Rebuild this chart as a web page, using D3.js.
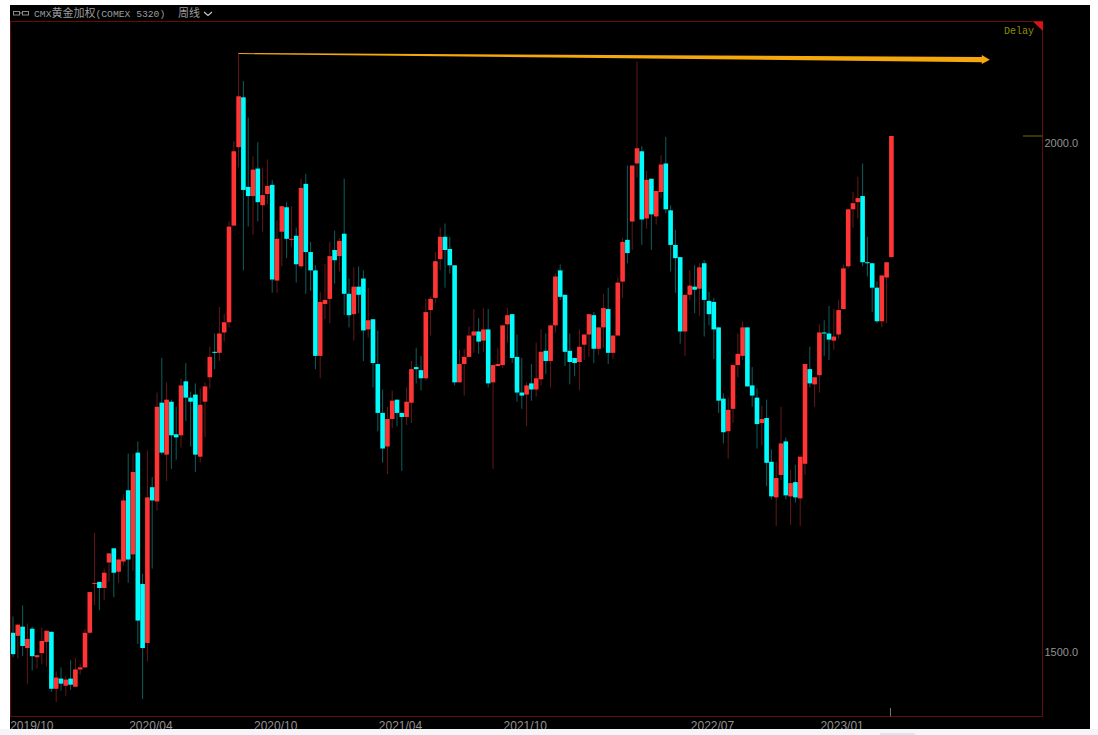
<!DOCTYPE html>
<html>
<head>
<meta charset="utf-8">
<title>CMX黄金加权 周线</title>
<script src="https://cdn.jsdelivr.net/npm/d3@7"></script>
<style>
    html, body { margin: 0; padding: 0; background: #fff; overflow: hidden; }
</style>
</head>
<body>
<div class="content"></div>
<script>
// weekly candles, oldest first
var opens = [1512,1509,1518,1497,1516,1488,1492,1503,1513,1457,1467,1460,1467,1459,1476,1478,1512,1560,1562,1556,
    1581,1595,1572,1582,1652,1589,1689,1560,1502,1655,1641,1738,1687,1739,1707,1706,1759,1743,1746,1685,
    1739,1763,1788,1787,1807,1817,1912,1989,2038,1950,1941,1968,1932,1943,1952,1858,1906,1930,1898,1902,
    1872,1953,1886,1868,1784,1835,1840,1888,1882,1904,1845,1825,1852,1860,1810,1820,1776,1728,1695,1722,
    1741,1728,1724,1738,1773,1770,1762,1829,1841,1879,1901,1889,1873,1758,1776,1783,1804,1808,1799,1810,
    1758,1774,1775,1815,1825,1783,1748,1746,1757,1751,1761,1789,1779,1814,1868,1844,1789,1782,1778,1795,
    1805,1824,1791,1812,1830,1787,1804,1857,1898,1916,1973,1985,1919,1958,1921,1945,1973,1927,1893,1881,
    1808,1844,1852,1850,1875,1838,1837,1812,1742,1710,1732,1775,1784,1812,1755,1743,1718,1723,1680,1645,
    1667,1700,1646,1660,1644,1678,1771,1756,1765,1807,1806,1799,1805,1830,1872,1928,1935,1941,1876,1875,
    1851,1818,1861,1881];
var highs = [1528,1520,1539,1521,1518,1490,1517,1514,1513,1474,1478,1469,1485,1487,1482,1516,1552,1610,1562,1575,
    1590,1595,1584,1648,1688,1688,1700,1570,1691,1665,1748,1782,1758,1741,1734,1762,1777,1749,1757,1752,
    1758,1793,1806,1832,1825,1916,1995,2082,2054,2018,1980,1994,1969,1977,1957,1917,1931,1935,1931,1910,
    1958,1963,1896,1873,1847,1874,1896,1907,1900,1958,1860,1871,1872,1868,1851,1820,1809,1751,1734,1750,
    1741,1728,1753,1779,1792,1784,1840,1842,1886,1910,1914,1901,1873,1790,1791,1813,1830,1821,1831,1830,
    1775,1792,1814,1831,1825,1805,1782,1758,1776,1797,1810,1806,1814,1865,1874,1844,1806,1782,1810,1805,
    1825,1827,1812,1845,1851,1804,1861,1900,1971,1971,2073,1990,1966,1958,1946,1981,1999,1932,1908,1881,
    1844,1868,1873,1875,1878,1847,1841,1812,1747,1743,1775,1806,1818,1812,1773,1752,1735,1741,1692,1680,
    1734,1704,1672,1677,1685,1776,1793,1763,1815,1819,1833,1830,1839,1874,1928,1945,1960,1973,1901,1875,
    1857,1863,1876,2000];
var lows = [1488,1487,1489,1462,1475,1477,1481,1479,1454,1444,1455,1450,1456,1459,1471,1478,1512,1539,1534,1544,
    1562,1547,1561,1578,1561,1573,1501,1447,1484,1575,1632,1687,1661,1673,1682,1694,1720,1695,1670,1679,
    1704,1752,1771,1779,1798,1812,1912,1969,1868,1911,1903,1916,1906,1933,1846,1846,1872,1880,1891,1856,
    1870,1845,1848,1771,1762,1820,1816,1855,1867,1824,1812,1799,1826,1779,1802,1753,1710,1679,1668,1713,
    1715,1671,1716,1718,1757,1750,1760,1804,1836,1868,1851,1865,1755,1758,1745,1783,1787,1786,1788,1753,
    1673,1774,1772,1797,1777,1739,1732,1715,1740,1744,1755,1766,1753,1807,1839,1774,1756,1764,1750,1780,
    1783,1777,1785,1792,1776,1781,1804,1841,1875,1888,1959,1893,1909,1888,1913,1939,1924,1867,1846,1796,
    1784,1839,1826,1823,1803,1814,1781,1728,1698,1683,1718,1763,1780,1754,1734,1693,1696,1656,1643,1617,
    1662,1643,1618,1640,1617,1667,1753,1734,1748,1784,1780,1790,1801,1830,1870,1910,1919,1872,1862,1827,
    1816,1812,1816,1881];
var closes = [1491,1520,1499,1506,1489,1490,1504,1514,1457,1468,1462,1466,1461,1476,1478,1512,1552,1561,1556,1571,
    1590,1571,1584,1642,1584,1670,1524,1497,1645,1642,1734,1689,1741,1706,1704,1755,1743,1739,1687,1736,
    1754,1783,1787,1806,1817,1911,1985,2039,1947,1941,1967,1935,1942,1951,1859,1899,1931,1899,1899,1874,
    1949,1886,1868,1784,1837,1839,1882,1878,1897,1845,1824,1852,1844,1809,1819,1777,1728,1693,1722,1740,
    1728,1724,1739,1771,1771,1762,1827,1840,1877,1901,1888,1873,1758,1776,1783,1804,1808,1798,1810,1757,
    1775,1776,1814,1824,1782,1748,1745,1755,1751,1762,1788,1779,1814,1862,1842,1788,1778,1777,1793,1805,
    1825,1791,1812,1831,1787,1804,1856,1896,1885,1971,1988,1918,1957,1923,1946,1972,1928,1893,1880,1808,
    1844,1853,1849,1871,1839,1825,1810,1740,1709,1731,1775,1786,1812,1754,1745,1717,1722,1679,1646,1664,
    1698,1647,1659,1645,1685,1776,1757,1763,1807,1806,1800,1803,1829,1870,1928,1934,1939,1876,1875,1851,
    1818,1863,1876,2000];

var priceTicks = [1500, 2000];
var dateTickIndex = [-0.8, 24, 50, 76, 102, 141, 168];
var dateTickLabels = ['2019/10', '2020/04', '2020/10', '2021/04', '2021/10', '2022/07', '2023/01'];

// the hand drawn line from the 2020 high
var arrowIndex = [47, 203.5];
var arrowPrice = [2081, 2075];
var lastPrice = 2000;

window.onload = function() {
    var width = 1098, height = 735;
    var red = '#ff3535', cyan = '#00fdfd';
    var redWick = '#641818', cyanWick = '#0b5f5f';
    var frameColor = '#640d0d';
    var left = 10.5, right = 1042.5, top = 21.5, bottom = 716.5;
    var labelColor = '#929292';

    var svg = d3.select('.content').append('svg')
        .attr('width', width)
        .attr('height', height)
        .style('display', 'block');

    // terminal window on a white page
    svg.append('rect').attr('x', 10).attr('y', 5).attr('width', 1080).attr('height', 725).attr('fill', '#000');

    var xScale = d3.scaleLinear().domain([0, 183]).range([13, 891.4]);
    var yScale = d3.scaleLinear().domain([1500, 2000]).range([645, 136]);

    var candles = d3.range(closes.length).map(function(i) {
        return { i: i, open: opens[i], high: highs[i], low: lows[i], close: closes[i] };
    });

    var g = svg.append('g');
    g.selectAll('line.wick').data(candles).enter().append('line')
        .attr('class', 'wick')
        .attr('x1', function(d) { return xScale(d.i); })
        .attr('x2', function(d) { return xScale(d.i); })
        .attr('y1', function(d) { return yScale(d.high); })
        .attr('y2', function(d) { return yScale(d.low); })
        .attr('stroke', function(d) { return d.close >= d.open ? redWick : cyanWick; })
        .attr('stroke-width', 1);
    g.selectAll('rect.body').data(candles).enter().append('rect')
        .attr('class', 'body')
        .attr('x', function(d) { return xScale(d.i) - 2.3; })
        .attr('width', 4.6)
        .attr('y', function(d) { return yScale(Math.max(d.open, d.close)); })
        .attr('height', function(d) { return Math.max(1, Math.abs(yScale(d.open) - yScale(d.close))); })
        .attr('fill', function(d) { return d.close >= d.open ? red : cyan; });

    // frame
    svg.append('rect')
        .attr('x', left).attr('y', top)
        .attr('width', right - left).attr('height', bottom - top)
        .attr('fill', 'none').attr('stroke', frameColor);
    svg.append('path')
        .attr('d', 'M1033,21.5L1043,21.5L1043,31Z')
        .attr('fill', '#d81414');

    // arrow gets thicker towards its head
    var ax0 = xScale(arrowIndex[0]), ax1 = xScale(arrowIndex[1]);
    var ay0 = yScale(arrowPrice[0]), ay1 = yScale(arrowPrice[1]);
    var headX = ax1 - 8;
    var headY = ay0 + (ay1 - ay0) * (headX - ax0) / (ax1 - ax0);
    svg.append('path')
        .attr('d', d3.line()([
            [ax0, ay0 - 0.5], [headX, headY - 2.6], [headX, headY - 4.5], [ax1, ay1],
            [headX, headY + 4.5], [headX, headY + 2.6], [ax0, ay0 + 0.5]
        ]) + 'Z')
        .attr('fill', '#f5a80c');

    // price axis
    var yAxis = svg.append('g')
        .attr('transform', 'translate(' + right + ',0)')
        .call(d3.axisRight(yScale)
            .tickValues(priceTicks)
            .tickSize(0)
            .tickPadding(2)
            .tickFormat(d3.format('.1f')));
    yAxis.select('.domain').remove();
    yAxis.selectAll('text')
        .attr('y', 6.8)
        .attr('fill', labelColor)
        .style('font', '11px "Liberation Sans", sans-serif');

    // last price mark
    svg.append('line')
        .attr('x1', 1023).attr('x2', right)
        .attr('y1', yScale(lastPrice)).attr('y2', yScale(lastPrice))
        .attr('stroke', '#6f6f00');
    svg.append('line')
        .attr('x1', xScale(182.8)).attr('x2', xScale(182.8))
        .attr('y1', 708).attr('y2', bottom)
        .attr('stroke', '#777');

    // date axis
    var xAxis = svg.append('g')
        .attr('transform', 'translate(0,' + bottom + ')')
        .call(d3.axisBottom(xScale)
            .tickValues(dateTickIndex)
            .tickSize(0)
            .tickFormat(function(d, i) { return dateTickLabels[i]; }));
    xAxis.select('.domain').remove();
    xAxis.selectAll('text')
        .attr('x', 0.5)
        .attr('y', 13)
        .attr('dy', 0)
        .attr('text-anchor', 'start')
        .attr('fill', labelColor)
        .style('font', '12px "Liberation Sans", sans-serif');

    // title bar
    var title = svg.append('text')
        .attr('x', 34).attr('y', 17)
        .attr('fill', '#9c9c9c');
    var mono = '"Liberation Mono", monospace', cjk = '"Noto Sans CJK SC", sans-serif';
    [['CMX', mono, 9.7], ['黄金加权', cjk, 11], ['(COMEX 5320)', mono, 9.7]].forEach(function(part) {
        title.append('tspan')
            .style('font-family', part[1])
            .style('font-size', part[2] + 'px')
            .text(part[0]);
    });
    svg.append('text')
        .attr('x', 178).attr('y', 17)
        .attr('fill', '#9c9c9c')
        .style('font-family', cjk)
        .style('font-size', '11px')
        .text('周线');
    svg.append('path')
        .attr('d', 'M204,12L208,15.5L212,12')
        .attr('fill', 'none').attr('stroke', '#c8c8c8').attr('stroke-width', 1.2);

    // link icon
    svg.append('rect').attr('x', 13.5).attr('y', 11.5).attr('width', 6).attr('height', 3.5)
        .attr('fill', 'none').attr('stroke', '#8a8a8a');
    svg.append('rect').attr('x', 22.5).attr('y', 11.5).attr('width', 6).attr('height', 3.5)
        .attr('fill', 'none').attr('stroke', '#8a8a8a');
    svg.append('line').attr('x1', 19).attr('x2', 23).attr('y1', 13).attr('y2', 13).attr('stroke', '#8a8a8a');

    svg.append('text')
        .attr('x', 1004).attr('y', 33.5)
        .attr('fill', '#8e8e00')
        .style('font', '10px "Liberation Mono", monospace')
        .text('Delay');

    // browser strip under the window cuts the date labels off
    svg.append('rect').attr('x', 0).attr('y', 729).attr('width', width).attr('height', 6).attr('fill', '#f3f5f9');
    svg.append('rect').attr('x', 880).attr('y', 733).attr('width', 35).attr('height', 2).attr('fill', '#e1e4ea');
}
</script>
</body>
</html>
